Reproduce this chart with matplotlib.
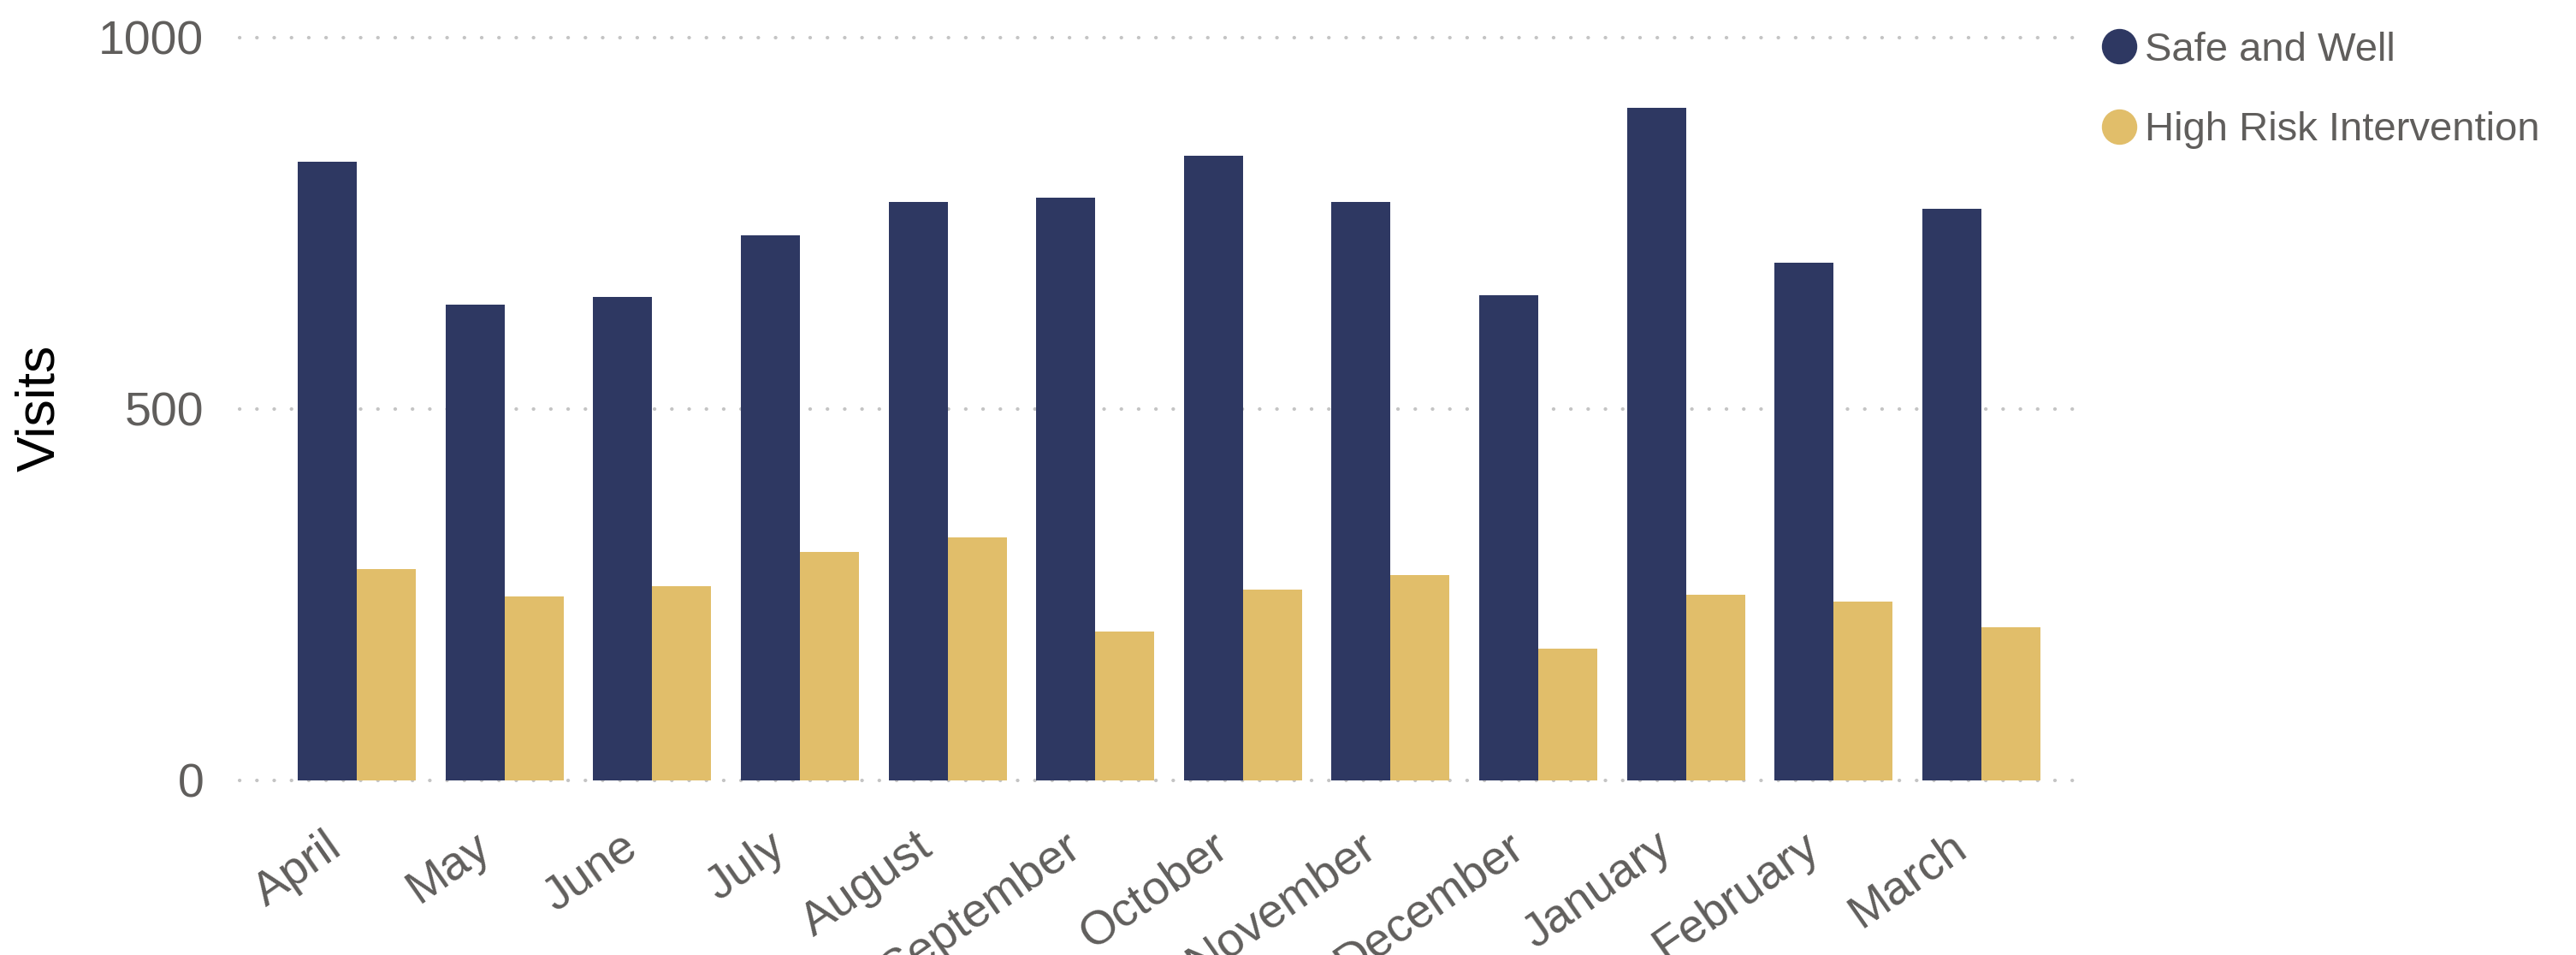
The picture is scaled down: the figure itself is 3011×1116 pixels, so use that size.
import matplotlib.pyplot as plt
from matplotlib.lines import Line2D
from matplotlib.transforms import ScaledTranslation
import numpy as np

# data
months = ['April', 'May', 'June', 'July', 'August', 'September',
          'October', 'November', 'December', 'January', 'February', 'March']
safe_and_well = [833, 640, 651, 734, 779, 785, 841, 779, 653, 905, 697, 770]
high_risk = [285, 248, 262, 308, 327, 201, 257, 277, 177, 250, 241, 206]
series_names = ['Safe and Well', 'High Risk Intervention']
y_ticks = [0, 500, 1000]

NAVY = '#2E3862'
GOLD = '#E1BE6A'
TEXT = '#605E5C'

plt.rcParams['font.family'] = ['Liberation Sans', 'DejaVu Sans']

fig = plt.figure(figsize=(30.11, 11.16), dpi=100)
ax = fig.add_axes([0.0930, 0.1828, 0.7180, 0.7778])

x = np.arange(len(months))
w = 0.4
ax.bar(x - w / 2, safe_and_well, w, color=NAVY, zorder=2)
ax.bar(x + w / 2, high_risk, w, color=GOLD, zorder=2)

ax.set_xlim(-0.794, 11.73)
ax.set_ylim(0, 1000)
ax.set_yticks(y_ticks)
ax.set_xticks(x)
ax.set_xticklabels(months, rotation=35, ha='right', va='top',
                   rotation_mode='anchor')

ax.tick_params(axis='y', length=0, pad=30, labelsize=40, labelcolor=TEXT)
ax.tick_params(axis='x', length=0, pad=22, labelsize=40, labelcolor=TEXT)

# nudge month labels so their ends sit just left of the group centre
shift = ScaledTranslation(-27 / 72, -15 / 72, fig.dpi_scale_trans)
for lab in ax.get_xticklabels():
    lab.set_transform(lab.get_transform() + shift)

for s in ax.spines.values():
    s.set_visible(False)

# dotted gridlines
ax.set_axisbelow(True)
ax.yaxis.grid(True, color='#C4C4C4', linewidth=3.0, linestyle=(0, (0.05, 4.8)))
for gl in ax.get_ygridlines():
    gl.set_dash_capstyle('round')
    gl.set_clip_on(False)

fig.text(47 / 3011, 1 - 477 / 1116, 'Visits', rotation=90, fontsize=45,
         color='black', ha='center', va='center')

handles = [Line2D([], [], linestyle='none', marker='o', markersize=28.8,
                  markerfacecolor=c, markeredgecolor=c) for c in (NAVY, GOLD)]
leg = fig.legend(handles, series_names, loc='upper left',
                 bbox_to_anchor=(2457 / 3011, 0.967), frameon=False,
                 fontsize=34, handlelength=0.85, handletextpad=0.2,
                 labelspacing=1.05, borderpad=0, borderaxespad=0)
for t in leg.get_texts():
    t.set_color(TEXT)

fig.savefig('out.png', dpi=100)
